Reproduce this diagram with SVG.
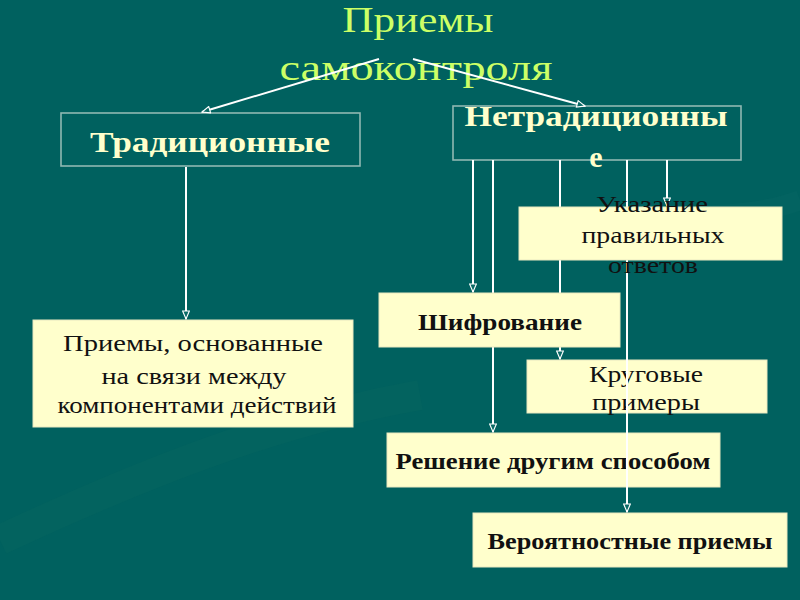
<svg xmlns="http://www.w3.org/2000/svg" width="800" height="600" viewBox="0 0 800 600">
<defs>
<marker id="ah" viewBox="0 0 10 10" refX="10" refY="5" markerWidth="10" markerHeight="8" markerUnits="userSpaceOnUse" orient="auto">
<path d="M0,0.8 L10,5 L0,9.2 z" fill="#0b6b67" stroke="#ffffff" stroke-width="1.4"/>
</marker>
</defs>
<style>
.ttl{font-family:"Liberation Serif","DejaVu Serif",serif;font-size:35px;fill:#ccff66;text-anchor:middle}
.head{font-family:"Liberation Serif","DejaVu Serif",serif;font-size:30px;font-weight:bold;fill:#ffffcc;text-anchor:middle}
.hbox{fill:none;stroke:#8fb8b2;stroke-width:1.6}
.box{fill:#ffffcc;stroke:#e8e8c0;stroke-width:1}
.t{font-family:"Liberation Serif","DejaVu Serif",serif;font-size:23px;font-weight:bold;fill:#111111;text-anchor:middle}
.tn{font-family:"Liberation Serif","DejaVu Serif",serif;font-size:23px;fill:#111111;text-anchor:middle}
.c{stroke:#ffffff;stroke-width:2;fill:none;marker-end:url(#ah)}
</style>
<rect width="800" height="600" fill="#00615f"/>
<path d="M0,540 C150,470 280,420 420,395" stroke="#05665f" stroke-width="30" fill="none" opacity="0.5"/>
<path d="M560,240 C640,200 720,230 800,200" stroke="#056663" stroke-width="20" fill="none" opacity="0.5"/>

<g id="title">
<text class="ttl" x="418" y="32" textLength="151" lengthAdjust="spacingAndGlyphs">Приемы</text>
<text class="ttl" x="416" y="80" textLength="273" lengthAdjust="spacingAndGlyphs">самоконтроля</text>
</g>

<g id="traditional">
<rect class="hbox" x="61" y="113" width="299" height="53"/>
<text class="head" x="210" y="152" textLength="240" lengthAdjust="spacingAndGlyphs">Традиционные</text>
</g>

<g id="nontraditional">
<rect class="hbox" x="453" y="106" width="288" height="54"/>
<text class="head" x="596" y="126" textLength="263" lengthAdjust="spacingAndGlyphs">Нетрадиционны</text>
<text class="head" x="596" y="167">е</text>
</g>

<g id="based">
<rect class="box" x="33" y="320" width="320" height="107"/>
<text class="tn" x="193" y="351" textLength="260" lengthAdjust="spacingAndGlyphs">Приемы, основанные</text>
<text class="tn" x="194" y="384" textLength="185" lengthAdjust="spacingAndGlyphs">на связи между</text>
<text class="tn" x="197" y="413" textLength="279" lengthAdjust="spacingAndGlyphs">компонентами действий</text>
</g>

<g id="circular">
<rect class="box" x="527" y="360" width="240" height="53"/>
<text class="tn" x="646" y="382" textLength="114" lengthAdjust="spacingAndGlyphs">Круговые</text>
<text class="tn" x="646" y="410" textLength="108" lengthAdjust="spacingAndGlyphs">примеры</text>
</g>

<g id="other-way">
<rect class="box" x="387" y="433" width="333" height="54"/>
<text class="t" x="553" y="469" textLength="315" lengthAdjust="spacingAndGlyphs">Решение другим способом</text>
</g>

<g id="probabilistic">
<rect class="box" x="473" y="513" width="314" height="54"/>
<text class="t" x="630" y="549" textLength="285" lengthAdjust="spacingAndGlyphs">Вероятностные приемы</text>
</g>

<g id="connectors">
<line class="c" x1="379" y1="59" x2="202" y2="112"/>
<line class="c" x1="413" y1="59" x2="585" y2="106"/>
<line class="c" x1="186" y1="167" x2="186" y2="319"/>
<line class="c" x1="473" y1="160" x2="473" y2="292"/>
<line class="c" x1="493" y1="160" x2="493" y2="432"/>
<line class="c" x1="560" y1="160" x2="560" y2="359"/>
<line class="c" x1="627" y1="160" x2="627" y2="512"/>
<line class="c" x1="667" y1="160" x2="667" y2="206"/>
</g>

<g id="cipher">
<rect class="box" x="379" y="293" width="241" height="54"/>
<text class="t" x="500" y="330" textLength="164" lengthAdjust="spacingAndGlyphs">Шифрование</text>
</g>

<g id="answers">
<rect class="box" x="519" y="207" width="263" height="53"/>
<text class="tn" x="652" y="212" textLength="112" lengthAdjust="spacingAndGlyphs">Указание</text>
<text class="tn" x="653" y="243" textLength="143" lengthAdjust="spacingAndGlyphs">правильных</text>
<text class="tn" x="653" y="273" textLength="90" lengthAdjust="spacingAndGlyphs">ответов</text>
</g>
</svg>
